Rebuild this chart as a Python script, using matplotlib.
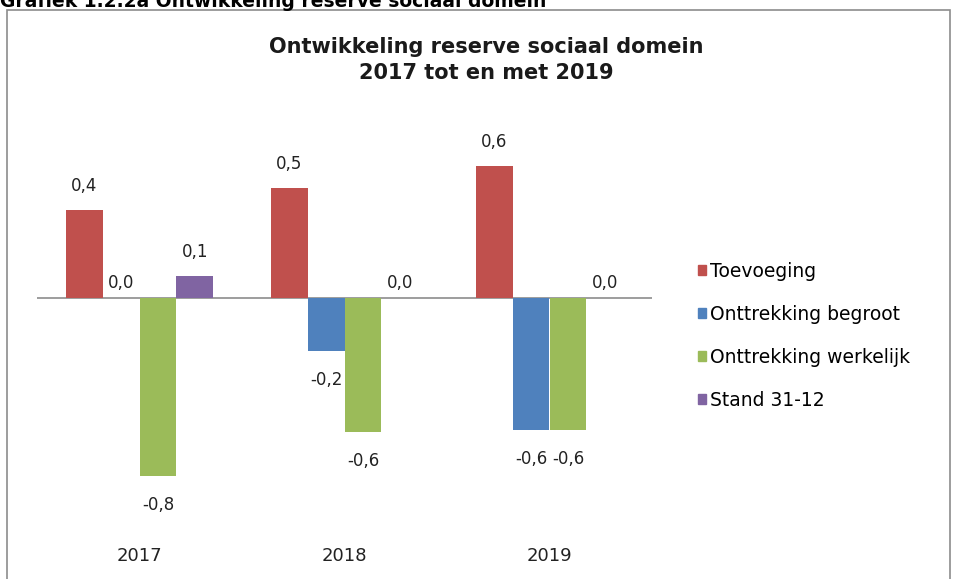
import numpy as np
import matplotlib.pyplot as plt
from matplotlib.patches import Rectangle, Patch

years = ['2017', '2018', '2019']
series = ['Toevoeging', 'Onttrekking begroot', 'Onttrekking werkelijk', 'Stand 31-12']
toevoeging = [0.40, 0.50, 0.60]
begroot = [0.0, -0.24, -0.60]
werkelijk = [-0.81, -0.61, -0.60]
stand = [0.10, 0.0, 0.0]
colors = ['#C0504D', '#4F81BD', '#9BBB59', '#8064A2']

W, H = 956, 579
fig = plt.figure(figsize=(W / 100, H / 100), dpi=100)
fig.patch.set_facecolor('white')

# chart frame
fig.patches.append(Rectangle((7 / W, -0.1), 943 / W, 1.1 - 10 / H, transform=fig.transFigure,
                             fill=False, edgecolor='#8c8c8c', lw=1.2))

fig.text(0.0, 1 - 7 / H, 'Grafiek 1.2.2a Ontwikkeling reserve sociaal domein',
         fontsize=13.5, fontweight='bold', va='baseline', ha='left')

fig.text(486 / W, 1 - 47 / H, 'Ontwikkeling reserve sociaal domein', ha='center', va='center',
         fontsize=15, fontweight='bold', color='#1a1a1a')
fig.text(486 / W, 1 - 73 / H, '2017 tot en met 2019', ha='center', va='center',
         fontsize=15, fontweight='bold', color='#1a1a1a')

ax = fig.add_axes([37 / W, 1 - 518 / H, 615 / W, 374 / H])
ax.set_xlim(-0.5, 2.5)
ax.set_ylim(-1.0, 0.7)
for s in ax.spines.values():
    s.set_visible(False)
ax.set_yticks([])

x = np.arange(len(years))
bw = 0.18
data = [toevoeging, begroot, werkelijk, stand]
for k, vals in enumerate(data):
    pos = x + (k - 1.5) * bw
    ax.bar(pos, vals, bw, color=colors[k], label=series[k], zorder=2)
    for px, v in zip(pos, vals):
        lab = ('%.1f' % v).replace('.', ',')
        if round(v, 1) == 0:
            lab = '0,0'
            dy = 11
        elif v > 0:
            dy = 17
        else:
            dy = -21
        ax.annotate(lab, (px, v if round(v, 1) != 0 else 0), xytext=(0, dy), textcoords='offset points',
                    ha='center', va='center', fontsize=12, color='#222222')

ax.axhline(0, color='#8c8c8c', lw=1.2, zorder=1)
ax.set_xticks(x)
ax.set_xticklabels(years, fontsize=13, color='#222222')
ax.tick_params(axis='x', length=0, pad=21)

handles = [Patch(color=c) for c in colors]
fig.legend(handles, series, loc='upper left', bbox_to_anchor=(698 / W, 1 - 262 / H),
           frameon=False, fontsize=13.5, handlelength=0.45, handleheight=0.45,
           handletextpad=0.2, labelspacing=1.28, borderaxespad=0, borderpad=0)

fig.savefig('out.png', dpi=100)
